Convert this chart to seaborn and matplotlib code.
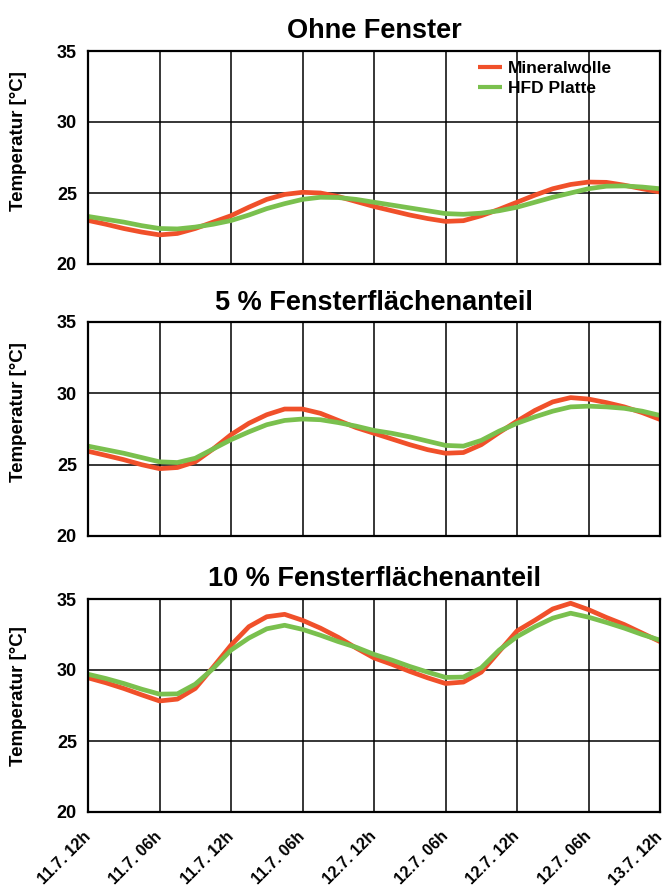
import numpy as np
import pandas as pd
import matplotlib
matplotlib.use("Agg")
import matplotlib.pyplot as plt
import seaborn as sns

# ---- data ----
hours = [0, 1.5, 3, 4.5, 6, 7.5, 9, 10.5, 12, 13.5, 15, 16.5, 18, 19.5, 21, 22.5,
         24, 25.5, 27, 28.5, 30, 31.5, 33, 34.5, 36, 37.5, 39, 40.5, 42, 43.5, 45, 46.5, 48]

tick_labels = ["11.7. 12h", "11.7. 06h", "11.7. 12h", "11.7. 06h", "12.7. 12h",
               "12.7. 06h", "12.7. 12h", "12.7. 06h", "13.7. 12h"]
tick_hours = [0, 6, 12, 18, 24, 30, 36, 42, 48]

series_names = ["Mineralwolle", "HFD Platte"]
panel_titles = ["Ohne Fenster", "5 % Fensterflächenanteil", "10 % Fensterflächenanteil"]

ohne_mineral = [23.07, 22.8, 22.5, 22.25, 22.05, 22.15, 22.5, 22.95, 23.4, 24.0, 24.55, 24.9,
                25.05, 25.0, 24.75, 24.4, 24.05, 23.75, 23.45, 23.2, 23.0, 23.05, 23.4, 23.85,
                24.35, 24.85, 25.3, 25.6, 25.77, 25.75, 25.55, 25.3, 25.07]
ohne_hfd = [23.35, 23.15, 22.95, 22.7, 22.5, 22.47, 22.6, 22.8, 23.06, 23.45, 23.9, 24.25,
            24.55, 24.7, 24.68, 24.55, 24.35, 24.15, 23.95, 23.75, 23.55, 23.5, 23.58, 23.75,
            24.0, 24.35, 24.7, 25.0, 25.3, 25.48, 25.5, 25.42, 25.3]

f5_mineral = [25.94, 25.65, 25.35, 25.0, 24.72, 24.8, 25.2, 26.1, 27.1, 27.9, 28.5, 28.9,
              28.9, 28.6, 28.1, 27.6, 27.2, 26.8, 26.4, 26.05, 25.8, 25.85, 26.4, 27.25,
              28.05, 28.8, 29.4, 29.7, 29.6, 29.35, 29.05, 28.65, 28.17]
f5_hfd = [26.3, 26.05, 25.8, 25.5, 25.2, 25.15, 25.45, 26.1, 26.75, 27.3, 27.8, 28.1,
          28.2, 28.15, 27.95, 27.7, 27.4, 27.2, 26.95, 26.65, 26.35, 26.3, 26.7, 27.35,
          27.9, 28.35, 28.75, 29.05, 29.1, 29.05, 28.95, 28.75, 28.45]

f10_mineral = [29.45, 29.1, 28.7, 28.25, 27.82, 27.95, 28.7, 30.2, 31.75, 33.05, 33.75, 33.92,
               33.5, 32.95, 32.3, 31.55, 30.85, 30.4, 29.9, 29.45, 29.05, 29.15, 29.85, 31.3,
               32.75, 33.5, 34.3, 34.7, 34.25, 33.7, 33.2, 32.6, 32.0]
f10_hfd = [29.7, 29.4, 29.05, 28.65, 28.3, 28.32, 29.0, 30.1, 31.4, 32.25, 32.9, 33.15,
           32.86, 32.45, 32.0, 31.6, 31.1, 30.7, 30.25, 29.85, 29.48, 29.5, 30.15, 31.4,
           32.35, 33.05, 33.65, 34.0, 33.72, 33.35, 32.95, 32.5, 32.1]

y_ticks = [20, 25, 30, 35]

panels = [(ohne_mineral, ohne_hfd), (f5_mineral, f5_hfd), (f10_mineral, f10_hfd)]

# ---- style ----
sns.set_theme(style="white")
plt.rcParams["font.family"] = ["Liberation Sans", "DejaVu Sans"]
plt.rcParams["font.weight"] = "bold"
for key in ["text.color", "axes.labelcolor", "xtick.color", "ytick.color"]:
    plt.rcParams[key] = "black"

palette = {"Mineralwolle": "#F0502A", "HFD Platte": "#7AC04E"}

fig = plt.figure(figsize=(6.65, 8.93), dpi=100)
W, H = 665.0, 893.0
left_px, right_px = 88, 660
tops_px = [51, 322, 599]
bottoms_px = [264, 536, 812]
ylabel_y = [0.577, 0.577, 0.545]

for i, ((m_vals, h_vals), title) in enumerate(zip(panels, panel_titles)):
    b = 1 - bottoms_px[i] / H
    h = (bottoms_px[i] - tops_px[i]) / H
    ax = fig.add_axes([left_px / W, b, (right_px - left_px) / W, h])
    df = pd.DataFrame({
        "Stunde": hours * 2,
        "Temperatur": m_vals + h_vals,
        "Material": [series_names[0]] * len(hours) + [series_names[1]] * len(hours),
    })
    sns.lineplot(data=df, x="Stunde", y="Temperatur", hue="Material",
                 palette=palette, linewidth=3.4, ax=ax, legend=(i == 0),
                 solid_capstyle="butt", solid_joinstyle="round")
    ax.set_xlim(0, 48)
    ax.set_ylim(20, 35)
    ax.set_xticks(tick_hours)
    ax.set_yticks(y_ticks)
    ax.grid(True, color="black", linewidth=1.1)
    ax.set_axisbelow(True)
    for s in ax.spines.values():
        s.set_color("black")
        s.set_linewidth(1.6)
    ax.tick_params(axis="both", length=0)
    ax.tick_params(axis="y", labelsize=13, pad=8)
    for lab in ax.get_yticklabels():
        lab.set_fontweight("bold")
    ax.set_xlabel("")
    ax.set_ylabel("Temperatur [°C]", fontsize=13.5, fontweight="bold")
    ax.yaxis.set_label_coords(-0.107, ylabel_y[i])
    ax.set_title(title, fontsize=19.5, fontweight="bold", pad=9)
    if i == 2:
        ax.set_xticklabels(tick_labels, rotation=45, ha="right", va="center",
                           rotation_mode="anchor", fontsize=11.5, fontweight="bold")
        ax.tick_params(axis="x", pad=16)
    else:
        ax.set_xticklabels([])
    if i == 0:
        leg = ax.legend(loc="upper left", bbox_to_anchor=(0.682, 0.955), frameon=False,
                        borderpad=0, borderaxespad=0, handletextpad=0.35,
                        handlelength=1.35, labelspacing=0.3,
                        prop={"weight": "bold", "size": 12.5})
        for line in leg.get_lines():
            line.set_linewidth(3.0)

fig.savefig("out.png", dpi=100)
